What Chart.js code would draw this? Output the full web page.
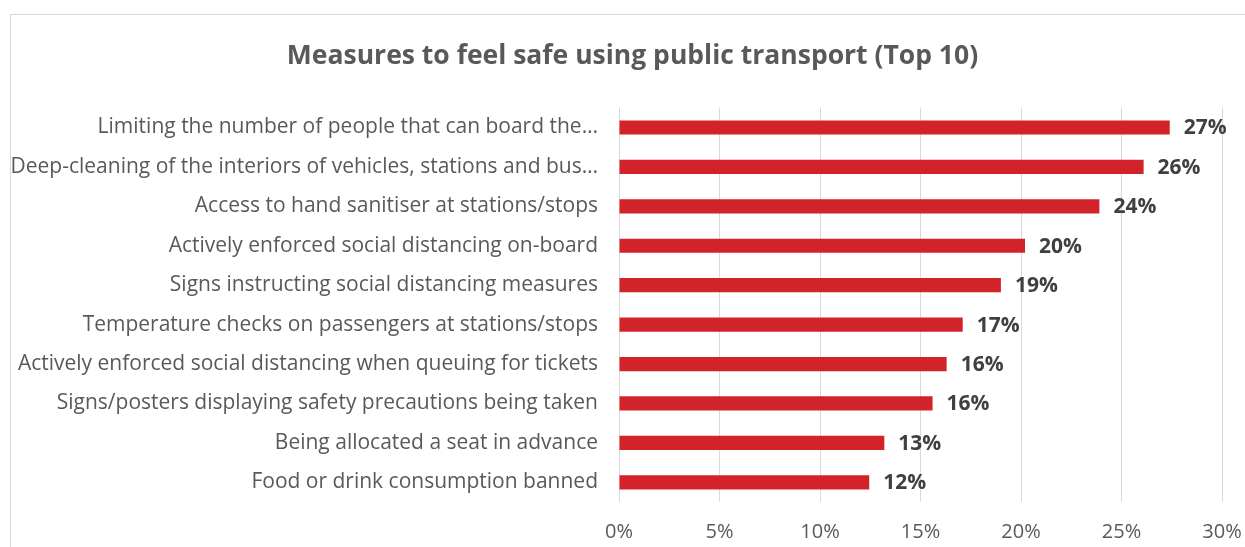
<!DOCTYPE html>
<html>
<head>
<meta charset="utf-8">
<script src="https://cdn.jsdelivr.net/npm/chart.js@4"></script>
<style>
  html, body { margin: 0; padding: 0; background: #fff; overflow: hidden; }
  #frame { position: absolute; left: 10px; top: 14px; width: 1250px; height: 545px; border: 1px solid #d9d9d9; }
  #wrap { position: absolute; left: 0; top: 0; width: 1245px; height: 547px; }
</style>
</head>
<body>
<div id="frame"></div>
<div id="wrap"><canvas id="chart"></canvas></div>
<script>
const categories = [
  "Limiting the number of people that can board the\u2026",
  "Deep-cleaning of the interiors of vehicles, stations and bus\u2026",
  "Access to hand sanitiser at stations/stops",
  "Actively enforced social distancing on-board",
  "Signs instructing social distancing measures",
  "Temperature checks on passengers at stations/stops",
  "Actively enforced social distancing when queuing for tickets",
  "Signs/posters displaying safety precautions being taken",
  "Being allocated a seat in advance",
  "Food or drink consumption banned"
];
const shares = [27.4, 26.1, 23.9, 20.2, 19.0, 17.1, 16.3, 15.6, 13.2, 12.45];
const xTicks = [0, 5, 10, 15, 20, 25, 30];

const FONT = "'Open Sans'";

// value labels at the end of each bar
const barLabels = {
  id: 'barLabels',
  afterDatasetsDraw(chart) {
    const ctx = chart.ctx;
    const meta = chart.getDatasetMeta(0);
    ctx.save();
    ctx.font = "bold 21px " + FONT;
    ctx.fillStyle = "#404040";
    ctx.textAlign = "left";
    ctx.textBaseline = "middle";
    meta.data.forEach((bar, i) => {
      ctx.fillText(Math.round(shares[i]) + "%", bar.x + 14, bar.y + 1);
    });
    ctx.restore();
  }
};

// the title is centred on the whole frame, not on the canvas
const titleShift = {
  id: 'titleShift',
  afterLayout(chart) {
    chart.titleBlock.left = 43;
  }
};

new Chart(document.getElementById('chart'), {
  type: 'bar',
  data: {
    labels: categories,
    datasets: [{
      data: shares,
      backgroundColor: '#d2232a',
      barPercentage: 0.36,
      categoryPercentage: 1
    }]
  },
  options: {
    indexAxis: 'y',
    responsive: true,
    maintainAspectRatio: false,
    animation: false,
    layout: { padding: { left: 0, right: 23, top: 0, bottom: -15 } },
    plugins: {
      legend: { display: false },
      tooltip: { enabled: false },
      title: {
        display: true,
        text: "Measures to feel safe using public transport (Top 10)",
        color: "#595959",
        font: { family: FONT, size: 26.5, weight: 'bold' },
        padding: { top: 41, bottom: 35 }
      }
    },
    scales: {
      x: {
        min: 0,
        max: 30,
        afterBuildTicks(scale) {
          scale.ticks = xTicks.map(v => ({ value: v }));
        },
        afterFit(scale) {
          scale.paddingLeft = 0;
          scale.paddingRight = 0;
        },
        grid: { color: '#d9d9d9', lineWidth: 1, drawTicks: false },
        border: { display: false },
        ticks: {
          color: '#595959',
          font: { family: FONT, size: 20 },
          padding: 18,
          callback: v => v + '%'
        }
      },
      y: {
        afterFit(scale) { scale.width = 619; },
        grid: { display: false },
        border: { display: false },
        ticks: {
          color: '#595959',
          font: { family: FONT, size: 21 },
          padding: 13,
          autoSkip: false
        }
      }
    }
  },
  plugins: [barLabels, titleShift]
});
</script>
</body>
</html>
